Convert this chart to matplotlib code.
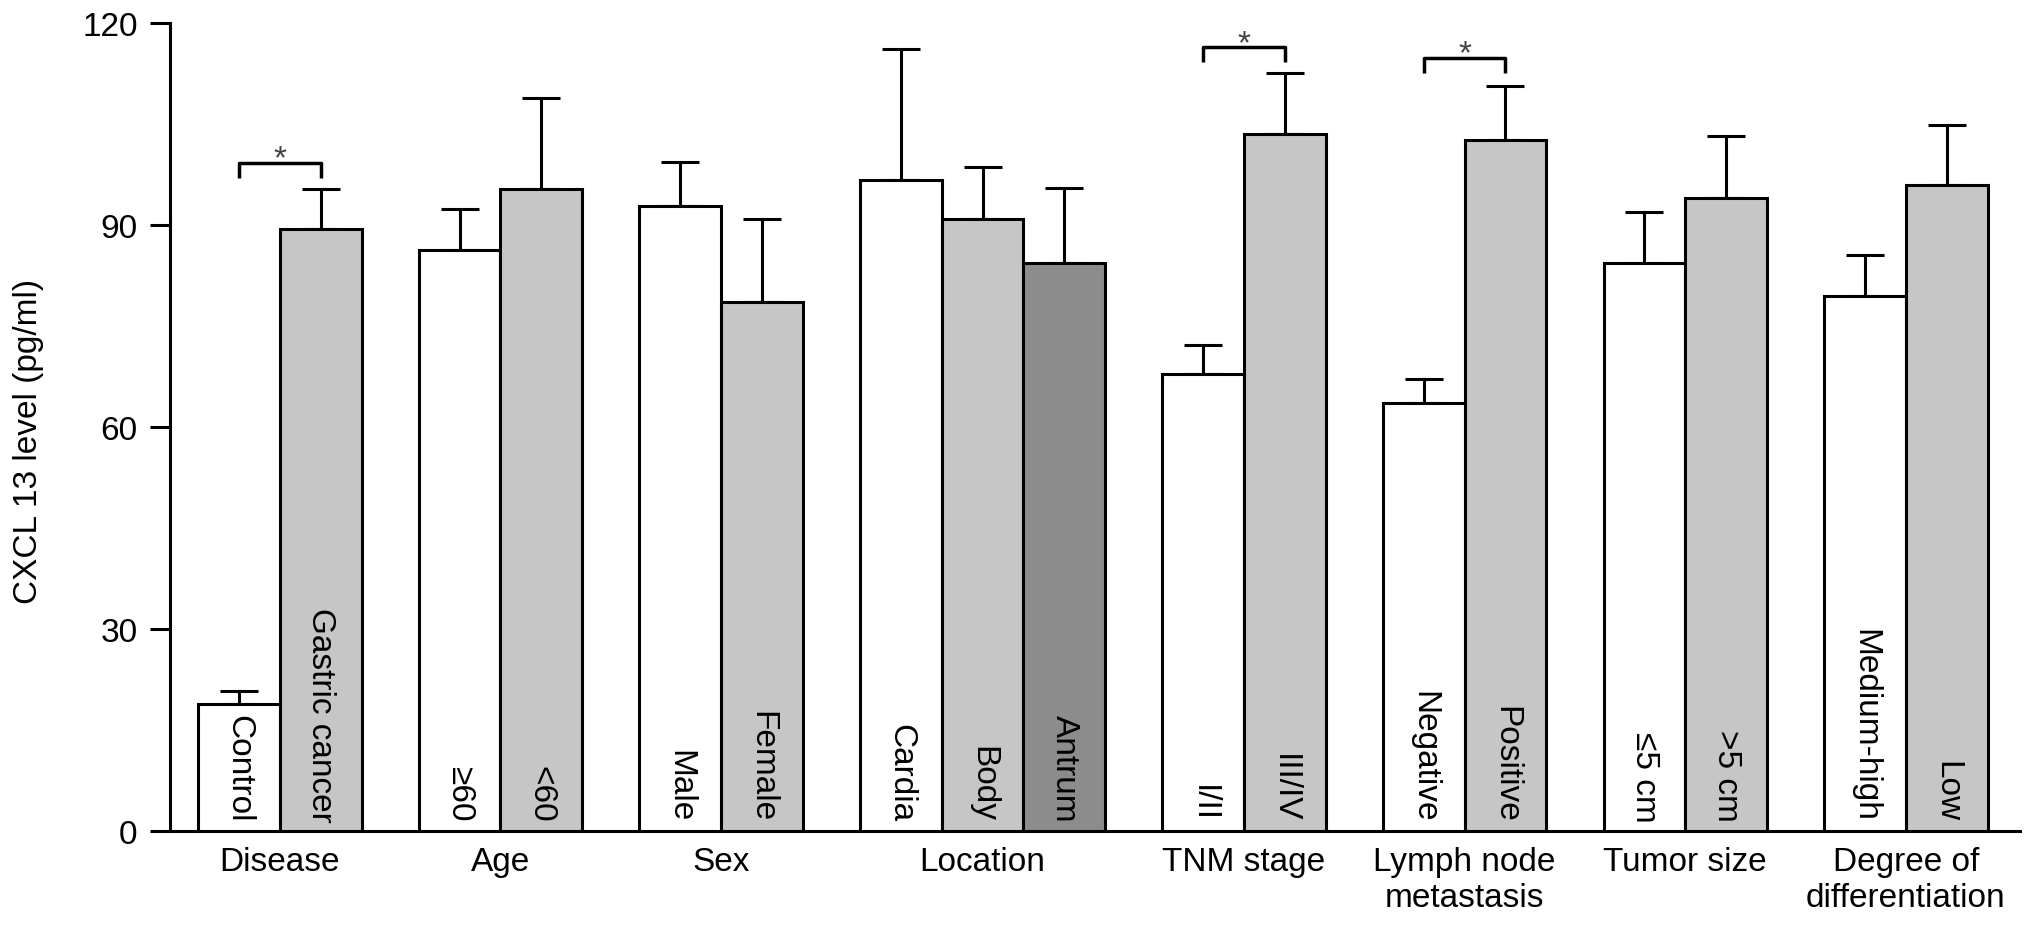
import numpy as np
import matplotlib.pyplot as plt

plt.rcParams['font.family'] = ['Liberation Sans', 'DejaVu Sans']

# data
groups = ["Disease", "Age", "Sex", "Location", "TNM stage",
          "Lymph node\nmetastasis", "Tumor size", "Degree of\ndifferentiation"]
bar_labels = [["Control", "Gastric cancer"], ["≥60", "<60"], ["Male", "Female"],
              ["Cardia", "Body", "Antrum"], ["I/II", "III/IV"],
              ["Negative", "Positive"], ["≤5 cm", ">5 cm"], ["Medium-high", "Low"]]
means = [[18.8, 89.4], [86.2, 95.4], [92.8, 78.5], [96.6, 90.9, 84.4],
         [67.9, 103.5], [63.6, 102.6], [84.3, 94.0], [79.5, 96.0]]
errors = [[2.0, 5.9], [6.1, 13.5], [6.6, 12.4], [19.5, 7.7, 11.1],
          [4.2, 9.0], [3.5, 8.0], [7.6, 9.2], [6.1, 8.9]]
# significance brackets: group index, bracket height
sig_groups = [0, 4, 5]
sig_heights = [99.2, 116.4, 114.8]

colors = ["white", "#c6c6c6", "#8c8c8c"]
lw = 2.2

fig = plt.figure(figsize=(20.32, 9.29), dpi=100)
ax = fig.add_axes([0.0837, 0.1047, 0.9104, 0.8695])

start = 0.343
gap = 0.70
group_centers = []
bar_centers = []
for g in range(len(groups)):
    n = len(means[g])
    xs = start + 0.5 + np.arange(n)
    bar_centers.append(xs)
    group_centers.append(start + n / 2)
    ax.bar(xs, means[g], width=1.0, color=colors[:n], edgecolor="black",
           linewidth=lw, zorder=3)
    ax.errorbar(xs, means[g], yerr=[np.zeros(n), errors[g]], fmt="none",
                ecolor="black", elinewidth=lw, capsize=14, capthick=lw, zorder=2)
    for x, lab in zip(xs, bar_labels[g]):
        ax.text(x, 1.4, lab, rotation=270, ha="center", va="bottom",
                fontsize=24, zorder=4)
    start += n + gap

for g, h in zip(sig_groups, sig_heights):
    x0, x1 = bar_centers[g][0], bar_centers[g][1]
    ax.plot([x0, x0, x1, x1], [h - 2.2, h, h, h - 2.2], color="black",
            linewidth=2.5, solid_capstyle="butt", zorder=4)
    ax.text((x0 + x1) / 2, h - 0.7, "*", ha="center", va="baseline",
            fontsize=24, color="#444444")

ax.set_xlim(0, 22.64)
ax.set_ylim(0, 120)
ax.set_yticks([0, 30, 60, 90, 120])
ax.set_xticks(group_centers)
ax.set_xticklabels(groups, fontsize=24, linespacing=1.2)
ax.tick_params(axis="x", length=0, pad=11)
ax.tick_params(axis="y", length=14.4, width=lw, pad=9, labelsize=24)
for s in ["top", "right"]:
    ax.spines[s].set_visible(False)
for s in ["left", "bottom"]:
    ax.spines[s].set_linewidth(lw)

ax.set_ylabel("CXCL 13 level (pg/ml)", fontsize=24)
ax.yaxis.set_label_coords(-0.068, 0.483)

fig.savefig("out.png", dpi=100)
